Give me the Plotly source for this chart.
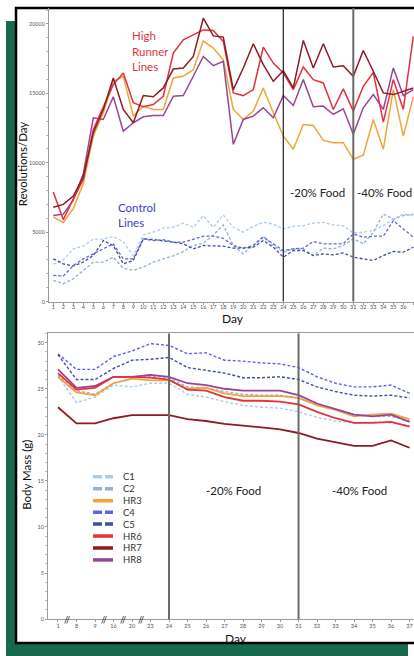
import plotly.graph_objects as go

# ---------------- data: top panel (Revolutions/Day) ----------------
days = list(range(1, 38))
hr6_rev = [7900, 5900, 7400, 8800, 12400, 14080, 15630, 16470, 14320, 14030, 14200, 14790, 17900,
           18860, 19220, 19570, 19530, 18740, 15030, 14840, 15270, 18330, 17180, 16470, 15270, 16900,
           15990, 15750, 13840, 15320, 13720, 15510, 16500, 12930, 15990, 13840, 19100]
hr7_rev = [6800, 7000, 7600, 9000, 12160, 13840, 16100, 13840, 12880, 14840, 14750, 15390, 16750,
           16830, 17660, 20410, 19140, 19050, 15270, 16830, 18570, 17070, 15870, 16630, 15390, 18810,
           16830, 18570, 16900, 16990, 16230, 18090, 16590, 15030, 14910, 15150, 15390]
hr3_rev = [6100, 5700, 6700, 8500, 11930, 13600, 15870, 16230, 13360, 14080, 13840, 13840, 16110,
           16230, 16700, 18780, 18260, 17420, 13840, 13120, 13720, 15390, 13600, 11930, 10970, 12760,
           12690, 11610, 11450, 11450, 10250, 10540, 13120, 10970, 15270, 11930, 14750]
hr8_rev = [6200, 6300, 7300, 9200, 13240, 13120, 14750, 12280, 12880, 13310, 13400, 13400, 14790,
           14840, 16230, 17660, 16990, 17300, 11330, 13120, 13360, 13960, 13240, 14840, 14130, 15990,
           14030, 14080, 13480, 13890, 12050, 13960, 14910, 13840, 16830, 14840, 15270]
c1_rev = [2700, 3000, 3800, 4000, 4500, 4500, 4700, 4300, 3300, 4800, 5000, 5300, 5350,
          5660, 5350, 6190, 5350, 6240, 5350, 5000, 5420, 5710, 5590, 5230, 5420, 5470,
          5660, 5710, 5520, 5470, 4950, 5000, 5120, 5470, 5950, 6300, 6200]
c2_rev = [1530, 1290, 1650, 2250, 2840, 2840, 3200, 2400, 2250, 2490, 2840, 3080, 3300,
          3600, 4040, 4200, 4800, 5520, 4040, 3440, 4040, 4710, 4040, 3560, 3800, 3800,
          3320, 3850, 3800, 4040, 4520, 4160, 5000, 6310, 5950, 6190, 6310]
c4_rev = [1890, 1840, 2600, 3080, 3440, 3800, 4160, 3080, 3080, 4520, 4400, 4460, 4280,
          4280, 4520, 4710, 4710, 4560, 4040, 3850, 4040, 4640, 4160, 3680, 3800, 3850,
          4330, 4160, 4160, 4160, 4880, 4640, 4710, 4710, 5830, 5230, 4640]
c5_rev = [3080, 2720, 2560, 2850, 3320, 4400, 4040, 2720, 2960, 4520, 4470, 4400, 4280,
          4160, 3800, 4040, 4040, 3990, 3850, 3850, 3920, 4400, 3920, 3200, 3680, 3680,
          3320, 3440, 3370, 3510, 3200, 3080, 2960, 3320, 3610, 3560, 3920]
rev_ticks = [0, 5000, 10000, 15000, 20000]

# ---------------- data: bottom panel (Body Mass) ----------------
mass_days = ["1", "8", "9", "16", "20", "23", "24", "25", "26", "27", "28", "29", "30",
             "31", "32", "33", "34", "35", "36", "37"]
c1_mass = [26.4, 23.5, 24.1, 25.4, 25.2, 25.6, 25.6, 24.4, 24.1, 23.6, 23.2, 23.0, 22.9,
           22.5, 21.9, 21.5, 21.3, 21.4, 21.3, 21.0]
c2_mass = [26.5, 24.8, 24.4, 25.6, 26.1, 26.4, 26.2, 25.2, 25.1, 24.7, 24.4, 24.3, 24.3,
           24.0, 23.3, 22.8, 22.2, 22.0, 22.0, 21.5]
hr3_mass = [26.3, 24.6, 24.3, 25.6, 26.1, 25.9, 25.9, 25.0, 25.1, 24.5, 24.2, 24.2, 24.2,
            24.0, 23.2, 22.7, 22.0, 22.2, 22.3, 21.7]
c4_mass = [28.8, 27.1, 27.1, 28.5, 29.1, 29.9, 29.7, 28.8, 28.9, 28.1, 28.0, 27.8, 27.7,
           27.3, 26.3, 25.6, 25.2, 25.2, 25.4, 24.5]
c5_mass = [28.7, 26.0, 26.0, 27.2, 28.1, 28.2, 28.4, 27.3, 27.0, 26.7, 26.2, 26.2, 26.3,
           26.0, 25.2, 24.7, 24.3, 24.2, 24.3, 24.0]
hr6_mass = [26.7, 24.9, 25.1, 26.3, 26.3, 26.2, 26.0, 24.9, 24.8, 24.1, 23.7, 23.7, 23.6,
            23.3, 22.5, 21.8, 21.3, 21.3, 21.4, 20.9]
hr7_mass = [23.0, 21.25, 21.25, 21.8, 22.15, 22.15, 22.15, 21.7, 21.5, 21.2, 20.96, 20.8, 20.6,
            20.2, 19.6, 19.2, 18.8, 18.8, 19.4, 18.6]
hr8_mass = [27.1, 25.1, 25.3, 26.3, 26.3, 26.5, 26.3, 25.6, 25.4, 25.0, 24.8, 24.8, 24.8,
            24.3, 23.4, 22.8, 22.2, 22.0, 22.2, 21.4]
mass_ticks = [0, 5, 10, 15, 20, 25, 30]
break_positions = [0.5, 2.5, 3.5, 4.5]

# ---------------- styles ----------------
W, H = 414, 656
FONT = "Lato"
col = {
    "C1": "#aacdec", "C2": "#8fb2d6", "HR3": "#f0a43a", "C4": "#6262e8",
    "C5": "#3f4fa2", "HR6": "#e3313d", "HR7": "#8c1c24", "HR8": "#9a4494",
}
legend_order = ["C1", "C2", "HR3", "C4", "C5", "HR6", "HR7", "HR8"]
legend_y_px = [479, 491, 503, 514.5, 526.5, 538.5, 550.5, 562.5]


def px_x(x):
    return x / W


def px_y(y):
    return (H - y) / H


fig = go.Figure()

top_series = [("C1", c1_rev), ("C2", c2_rev), ("C4", c4_rev), ("C5", c5_rev),
              ("HR3", hr3_rev), ("HR8", hr8_rev), ("HR6", hr6_rev), ("HR7", hr7_rev)]
for name, vals in top_series:
    dashed = name.startswith("C")
    fig.add_trace(go.Scatter(
        x=days, y=vals, mode="lines", name=name, showlegend=False,
        line=dict(color=col[name], width=1.3 if dashed else 1.5,
                  dash="3px,2px" if dashed else "solid"),
        xaxis="x", yaxis="y", hoverinfo="skip"))

bottom_series = [("C1", c1_mass), ("C2", c2_mass), ("C4", c4_mass), ("C5", c5_mass),
                 ("HR3", hr3_mass), ("HR8", hr8_mass), ("HR6", hr6_mass), ("HR7", hr7_mass)]
idx = list(range(len(mass_days)))
for name, vals in bottom_series:
    dashed = name.startswith("C")
    fig.add_trace(go.Scatter(
        x=idx, y=vals, mode="lines", name=name, showlegend=False,
        line=dict(color=col[name], width=1.4 if dashed else 1.8,
                  dash="3px,2px" if dashed else "solid"),
        xaxis="x2", yaxis="y2", hoverinfo="skip"))

shapes = []
# green background frame
shapes.append(dict(type="rect", xref="paper", yref="paper", layer="below",
                   x0=px_x(6), x1=px_x(408), y0=-0.01, y1=px_y(21),
                   fillcolor="#17694e", line=dict(width=0)))
# white panel with black border
shapes.append(dict(type="rect", xref="paper", yref="paper", layer="below",
                   x0=px_x(16), x1=1.2, y0=px_y(646), y1=px_y(8),
                   fillcolor="white", line=dict(color="black", width=2.5)))
# phase lines (top)
shapes.append(dict(type="line", xref="x", yref="y domain", x0=24, x1=24, y0=0, y1=1,
                   line=dict(color="#222222", width=1.2)))
shapes.append(dict(type="line", xref="x", yref="y domain", x0=31, x1=31, y0=0, y1=1,
                   line=dict(color="#6a6a6a", width=2)))
# phase lines (bottom)
for i in (mass_days.index("24"), mass_days.index("31")):
    shapes.append(dict(type="line", xref="x2", yref="y2 domain", x0=i, x1=i, y0=0, y1=1,
                       line=dict(color="#6a6a6a", width=2)))
# legend samples
for name, yy in zip(legend_order, legend_y_px):
    dashed = name.startswith("C")
    shapes.append(dict(type="line", xref="paper", yref="paper",
                       x0=px_x(93), x1=px_x(113), y0=px_y(yy), y1=px_y(yy),
                       line=dict(color=col[name], width=3.5,
                                 dash="9px,3px" if dashed else "solid")))

ann = []


def text(x, y, s, size=11.5, color="#222", angle=0, xanchor="center"):
    ann.append(dict(x=px_x(x), y=px_y(y), xref="paper", yref="paper", text=s,
                    showarrow=False, textangle=angle, xanchor=xanchor, yanchor="middle",
                    font=dict(family=FONT, size=size, color=color)))


red_t = "#dd3440"
blue_t = "#3b3bcc"
text(130, 36, "High", 11.5, red_t, xanchor="left")
text(130, 52, "Runner", 11.5, red_t, xanchor="left")
text(130, 67, "Lines", 11.5, red_t, xanchor="left")
text(116, 208, "Control", 11.5, blue_t, xanchor="left")
text(116, 224, "Lines", 11.5, blue_t, xanchor="left")
text(317, 193, "-20% Food", 11.5)
text(384.5, 193, "-40% Food", 11.5)
text(234, 493, "-20% Food", 11.5)
text(359.5, 493, "-40% Food", 11.5)
text(233, 319.5, "Day", 12, "#111")
text(236, 641, "Day", 12, "#111")
text(22, 165, "Revolutions/Day", 11.5, "#111", angle=-90)
text(27, 477, "Body Mass (g)", 11.5, "#111", angle=-90)
for name, yy in zip(legend_order, legend_y_px):
    text(121, yy, name, 9.5, "#333", xanchor="left")
for b in break_positions:
    ann.append(dict(x=b, y=0, xref="x2", yref="y2", text="//", showarrow=False,
                    xanchor="center", yanchor="middle",
                    font=dict(family=FONT, size=9, color="#222")))

tickfont = dict(family=FONT, size=5.5, color="#555")
axis_common = dict(showgrid=False, zeroline=False, showline=True, linecolor="#9a9a9a",
                   linewidth=1, ticks="outside", ticklen=2, tickcolor="#9a9a9a",
                   tickfont=tickfont)

fig.update_layout(
    width=W, height=H, margin=dict(l=0, r=0, t=0, b=0),
    paper_bgcolor="white", plot_bgcolor="rgba(0,0,0,0)",
    showlegend=False, shapes=shapes, annotations=ann,
    xaxis=dict(domain=[px_x(49), 1], range=[0.57, 37.07], anchor="y",
               tickvals=days, ticktext=[str(d) for d in days], ticklabelstandoff=-2,
               **axis_common),
    yaxis=dict(domain=[px_y(303), px_y(8)], range=[0, 21150], anchor="x",
               tickvals=rev_ticks, ticktext=[str(t) for t in rev_ticks],
               minor=dict(ticks="outside", ticklen=2, dtick=1000, tickcolor="#bbbbbb"),
               **axis_common),
    xaxis2=dict(domain=[px_x(48), 1], range=[-0.54, 19.24], anchor="y2", mirror=True,
                tickvals=idx, ticktext=mass_days, ticklabelstandoff=-1, **axis_common),
    yaxis2=dict(domain=[px_y(622), px_y(335)], range=[0, 31], anchor="x2",
                tickvals=mass_ticks, ticktext=[str(t) for t in mass_ticks],
                minor=dict(ticks="outside", ticklen=2, dtick=1, tickcolor="#bbbbbb"),
                **axis_common),
)

fig.write_html(
    "out.html",
    config={"displayModeBar": False},
    post_script="document.body.style.margin='0';document.body.style.overflow='hidden';",
)
